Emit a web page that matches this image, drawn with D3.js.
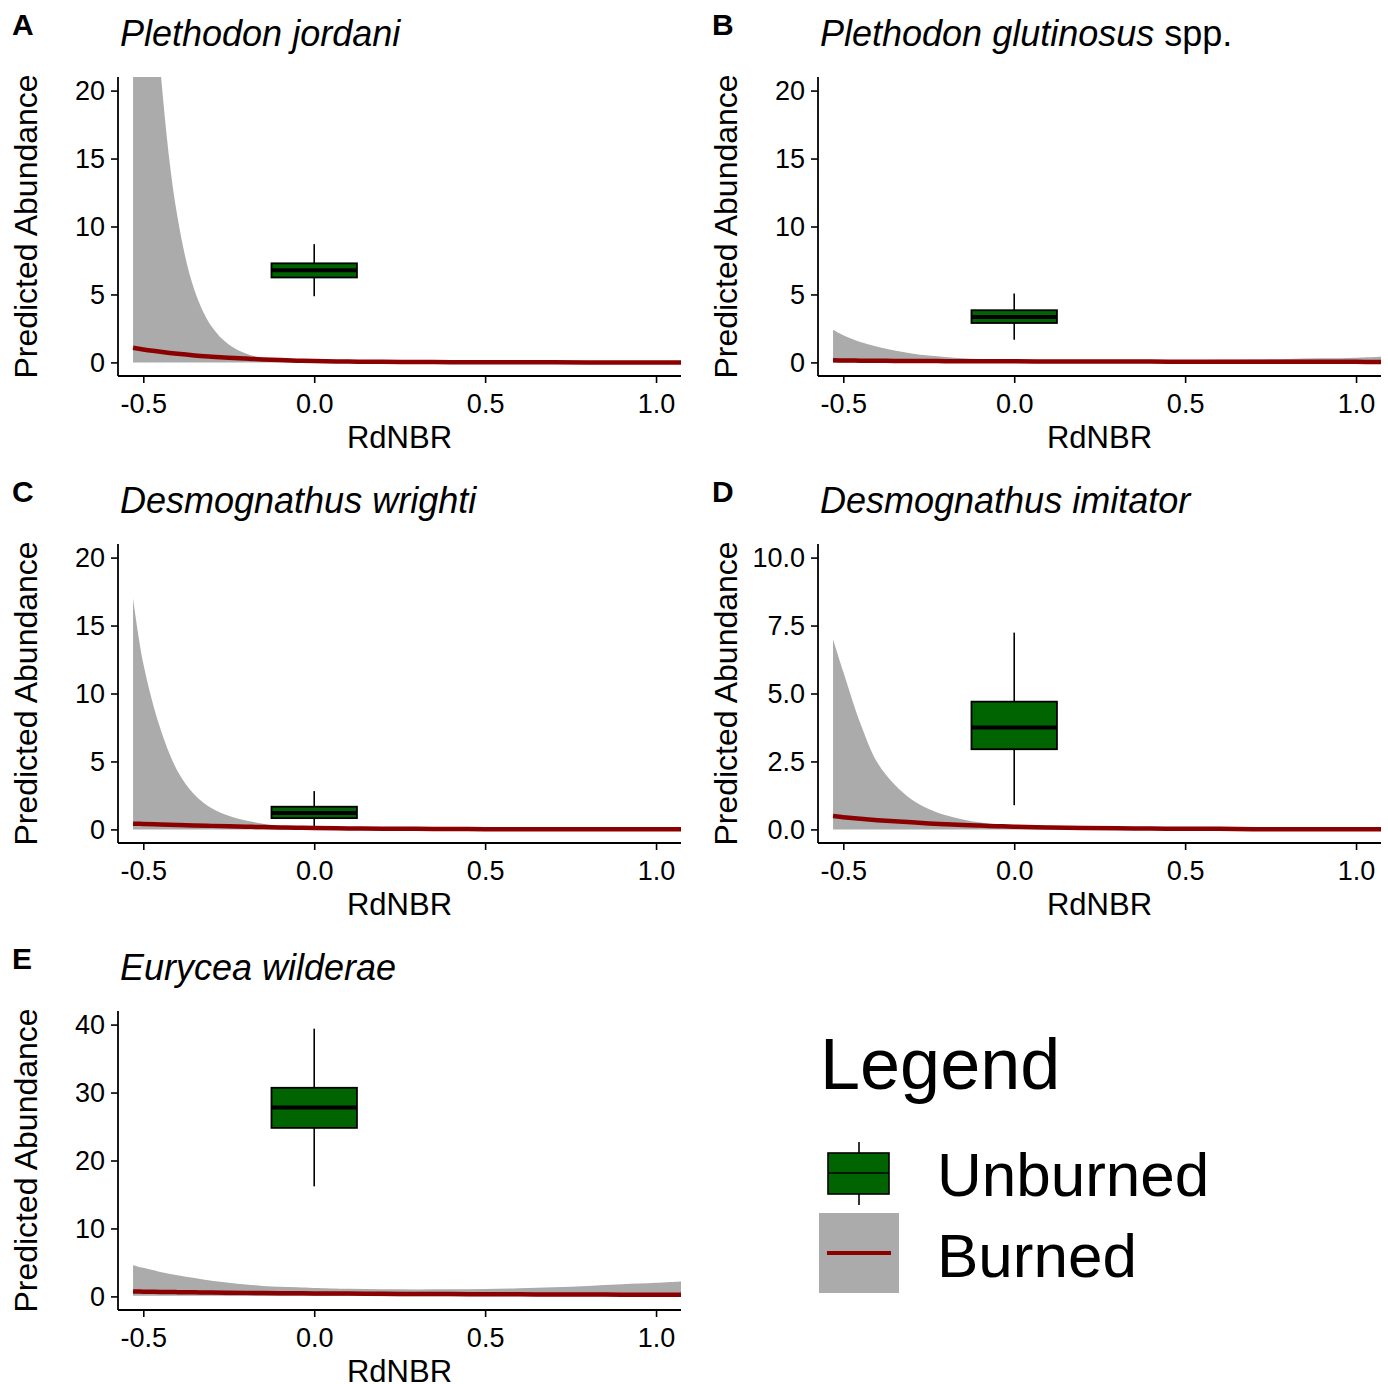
<!DOCTYPE html>
<html>
<head>
<meta charset="utf-8">
<script src="https://cdn.jsdelivr.net/npm/d3@7"></script>
<style>
  body { margin: 0; background: #fff; }
  svg text { font-family: "Liberation Sans", Arial, sans-serif; fill: #000; }
</style>
</head>
<body>
<div class="canvas"></div>
<script>
const rdnbr = [-0.53, -0.5, -0.45, -0.4, -0.35, -0.3, -0.25, -0.2, -0.15, -0.1, -0.05, 0,
  0.1, 0.2, 0.3, 0.4, 0.5, 0.6, 0.7, 0.8, 0.9, 1.0, 1.073];

// burned: upper CI, lower CI, fitted
const upperA = [66, 43.5, 21.6, 10.7, 5.3, 2.64, 1.31, 0.65, 0.32, 0.16, 0.08, 0.04, 0.01, 0, 0, 0, 0, 0, 0, 0, 0, 0, 0];
const fitA = [1.08, 0.95, 0.78, 0.63, 0.51, 0.42, 0.34, 0.28, 0.22, 0.17, 0.13, 0.1, 0.06, 0.04, 0.03, 0.02, 0.01, 0.01, 0.01, 0, 0, 0, 0];

const upperB = [2.4, 2.0, 1.5, 1.15, 0.88, 0.66, 0.5, 0.39, 0.3, 0.25, 0.21, 0.19, 0.17, 0.16, 0.16, 0.16, 0.17, 0.19, 0.22, 0.26, 0.3, 0.35, 0.42];
const fitB = [0.15, 0.14, 0.13, 0.12, 0.11, 0.1, 0.1, 0.09, 0.09, 0.08, 0.08, 0.08, 0.07, 0.07, 0.06, 0.06, 0.05, 0.05, 0.05, 0.04, 0.04, 0.04, 0.03];

const upperC = [17, 12.2, 7.4, 4.3, 2.55, 1.55, 1.0, 0.65, 0.42, 0.26, 0.16, 0.1, 0.04, 0.02, 0.01, 0, 0, 0, 0, 0, 0, 0, 0];
const fitC = [0.42, 0.4, 0.36, 0.33, 0.29, 0.26, 0.23, 0.2, 0.17, 0.14, 0.12, 0.1, 0.07, 0.05, 0.04, 0.03, 0.02, 0.02, 0.01, 0.01, 0.01, 0.01, 0.01];

const upperD = [7.0, 5.8, 3.9, 2.45, 1.65, 1.1, 0.75, 0.52, 0.36, 0.25, 0.18, 0.12, 0.06, 0.03, 0.015, 0.01, 0, 0, 0, 0, 0, 0, 0];
const fitD = [0.49, 0.45, 0.39, 0.34, 0.3, 0.26, 0.22, 0.19, 0.16, 0.14, 0.12, 0.1, 0.07, 0.05, 0.04, 0.03, 0.02, 0.02, 0.01, 0.01, 0.01, 0.01, 0.01];

const upperE = [4.6, 4.2, 3.6, 3.1, 2.7, 2.3, 2.0, 1.75, 1.55, 1.42, 1.33, 1.25, 1.12, 1.05, 1.03, 1.05, 1.1, 1.2, 1.35, 1.55, 1.78, 2.0, 2.2];
const lowerE = [0.1, 0.1, 0.09, 0.09, 0.08, 0.08, 0.07, 0.07, 0.06, 0.06, 0.05, 0.05, 0.05, 0.04, 0.04, 0.03, 0.03, 0.02, 0.02, 0.02, 0.01, 0.01, 0.01];
const fitE = [0.72, 0.7, 0.66, 0.63, 0.6, 0.57, 0.55, 0.52, 0.5, 0.48, 0.46, 0.44, 0.41, 0.38, 0.36, 0.34, 0.32, 0.3, 0.29, 0.27, 0.26, 0.25, 0.24];

const zeros = rdnbr.map(() => 0);

// unburned boxplots: [low whisker, q1, median, q3, high whisker]
const boxA = [4.87, 6.25, 6.79, 7.29, 8.7];
const boxB = [1.67, 2.9, 3.35, 3.84, 5.07];
const boxC = [0.24, 0.83, 1.2, 1.67, 2.82];
const boxD = [0.89, 2.95, 3.75, 4.70, 7.24];
const boxE = [16.2, 24.8, 27.8, 30.7, 39.4];

// axis ticks
const xTicks = [-0.5, 0, 0.5, 1.0];
const yTicks20 = [0, 5, 10, 15, 20];
const yTicks10 = [0, 2.5, 5, 7.5, 10];
const yTicks40 = [0, 10, 20, 30, 40];

const species = ['Plethodon jordani', 'Plethodon glutinosus', 'Desmognathus wrighti', 'Desmognathus imitator', 'Eurycea wilderae'];
const letters = ['A', 'B', 'C', 'D', 'E'];
const legendLabels = ['Unburned', 'Burned'];

const green = '#006400';
const red = '#8b0000';
const ribbonGrey = '#ababab';

const W = 1388, H = 1384;
const plotW = 563, plotH = 299;

// plain hyphen for negative numbers, like the original
const locale = d3.formatLocale({ decimal: '.', thousands: ',', grouping: [3], currency: ['', ''], minus: '-' });

const svg = d3.select('.canvas')
    .append('svg')
    .attr('width', W)
    .attr('height', H);

svg.append('rect').attr('width', W).attr('height', H).attr('fill', '#fff');

const panels = [
    { ox: 118, oy: 77, upper: upperA, lower: zeros, fit: fitA, box: boxA, yDom: [-1, 21], yTicks: yTicks20, fmt: locale.format('d'), suffix: '' },
    { ox: 818, oy: 77, upper: upperB, lower: zeros, fit: fitB, box: boxB, yDom: [-1, 21], yTicks: yTicks20, fmt: locale.format('d'), suffix: ' spp.' },
    { ox: 118, oy: 544, upper: upperC, lower: zeros, fit: fitC, box: boxC, yDom: [-1, 21], yTicks: yTicks20, fmt: locale.format('d'), suffix: '' },
    { ox: 818, oy: 544, upper: upperD, lower: zeros, fit: fitD, box: boxD, yDom: [-0.5, 10.5], yTicks: yTicks10, fmt: locale.format('.1f'), suffix: '' },
    { ox: 118, oy: 1011, upper: upperE, lower: lowerE, fit: fitE, box: boxE, yDom: [-2, 42], yTicks: yTicks40, fmt: locale.format('d'), suffix: '' }
];

panels.forEach((p, i) => {

    const g = svg.append('g')
        .attr('transform', `translate(${p.ox}, ${p.oy})`);

    // scales
    const x = d3.scaleLinear().domain([-0.574, 1.073]).range([0, plotW]);
    const y = d3.scaleLinear().domain(p.yDom).range([plotH, 0]);

    // clip to plot area
    const clipId = 'clip' + i;
    g.append('clipPath').attr('id', clipId)
        .append('rect').attr('width', plotW).attr('height', plotH);

    const plot = g.append('g').attr('clip-path', `url(#${clipId})`);

    const rows = rdnbr.map((v, k) => ({ x: v, lo: p.lower[k], hi: p.upper[k], fit: p.fit[k] }));

    // confidence ribbon
    const area = d3.area()
        .x(d => x(d.x))
        .y0(d => y(d.lo))
        .y1(d => y(d.hi))
        .curve(d3.curveCatmullRom.alpha(0.5));

    plot.append('path')
        .datum(rows)
        .attr('d', area)
        .attr('fill', ribbonGrey);

    // unburned box
    const [wLo, q1, med, q3, wHi] = p.box;
    const bx0 = x(-0.125), bx1 = x(0.125), bxc = x(0);

    plot.append('line')
        .attr('x1', bxc).attr('x2', bxc)
        .attr('y1', y(wHi)).attr('y2', y(wLo))
        .attr('stroke', '#000').attr('stroke-width', 1.6);

    plot.append('rect')
        .attr('x', bx0).attr('width', bx1 - bx0)
        .attr('y', y(q3)).attr('height', y(q1) - y(q3))
        .attr('fill', green)
        .attr('stroke', '#000').attr('stroke-width', 1.8);

    plot.append('line')
        .attr('x1', bx0).attr('x2', bx1)
        .attr('y1', y(med)).attr('y2', y(med))
        .attr('stroke', '#000').attr('stroke-width', 4);

    // fitted line
    const line = d3.line()
        .x(d => x(d.x))
        .y(d => y(d.fit))
        .curve(d3.curveCatmullRom.alpha(0.5));

    plot.append('path')
        .datum(rows)
        .attr('d', line)
        .attr('fill', 'none')
        .attr('stroke', red)
        .attr('stroke-width', 4.5);

    // axes
    const xAxis = d3.axisBottom(x)
        .tickValues(xTicks)
        .tickFormat(locale.format('.1f'))
        .tickSize(7)
        .tickPadding(6);

    const yAxis = d3.axisLeft(y)
        .tickValues(p.yTicks)
        .tickFormat(p.fmt)
        .tickSize(7)
        .tickPadding(6);

    const xg = g.append('g')
        .attr('transform', `translate(0, ${plotH})`)
        .call(xAxis);

    const yg = g.append('g').call(yAxis);

    [xg, yg].forEach(a => {
        a.select('.domain').attr('stroke', '#000').attr('stroke-width', 1.8)
            .attr('d', a === xg ? `M0,0H${plotW}` : `M0,0V${plotH}`);
        a.selectAll('.tick line').attr('stroke', '#000').attr('stroke-width', 1.6);
        a.selectAll('.tick text')
            .attr('font-size', 27)
            .attr('font-family', '"Liberation Sans", Arial, sans-serif')
            .attr('fill', '#000');
    });

    xg.selectAll('.tick text').attr('dy', '0.9em');

    // axis titles
    g.append('text')
        .attr('x', plotW / 2)
        .attr('y', plotH + 72)
        .attr('text-anchor', 'middle')
        .attr('font-size', 31)
        .text('RdNBR');

    g.append('text')
        .attr('transform', `translate(-81, ${plotH / 2}) rotate(-90)`)
        .attr('text-anchor', 'middle')
        .attr('font-size', 32)
        .text('Predicted Abundance');

    // panel letter and species title
    g.append('text')
        .attr('x', -106)
        .attr('y', -42)
        .attr('font-size', 30)
        .attr('font-weight', 'bold')
        .text(letters[i]);

    const title = g.append('text')
        .attr('x', 2)
        .attr('y', -31)
        .attr('font-size', 36);
    title.append('tspan').attr('font-style', 'italic').text(species[i]);
    if (p.suffix) title.append('tspan').text(p.suffix);
});

// legend
const leg = svg.append('g');

leg.append('text')
    .attr('x', 820).attr('y', 1089)
    .attr('font-size', 72)
    .text('Legend');

leg.append('line')
    .attr('x1', 859).attr('x2', 859)
    .attr('y1', 1142).attr('y2', 1205)
    .attr('stroke', '#000').attr('stroke-width', 1.6);

leg.append('rect')
    .attr('x', 828).attr('y', 1153)
    .attr('width', 61).attr('height', 41)
    .attr('fill', green)
    .attr('stroke', '#000').attr('stroke-width', 1.6);

leg.append('line')
    .attr('x1', 828).attr('x2', 889)
    .attr('y1', 1173).attr('y2', 1173)
    .attr('stroke', '#000').attr('stroke-width', 1.6);

leg.append('rect')
    .attr('x', 819).attr('y', 1213)
    .attr('width', 80).attr('height', 80)
    .attr('fill', ribbonGrey);

leg.append('line')
    .attr('x1', 827).attr('x2', 891)
    .attr('y1', 1253).attr('y2', 1253)
    .attr('stroke', red).attr('stroke-width', 4);

leg.selectAll('.lab')
    .data(legendLabels)
    .enter()
    .append('text')
        .attr('class', 'lab')
        .attr('x', 937)
        .attr('y', (d, i) => 1196 + i * 81)
        .attr('font-size', 62)
        .text(d => d);
</script>
</body>
</html>
